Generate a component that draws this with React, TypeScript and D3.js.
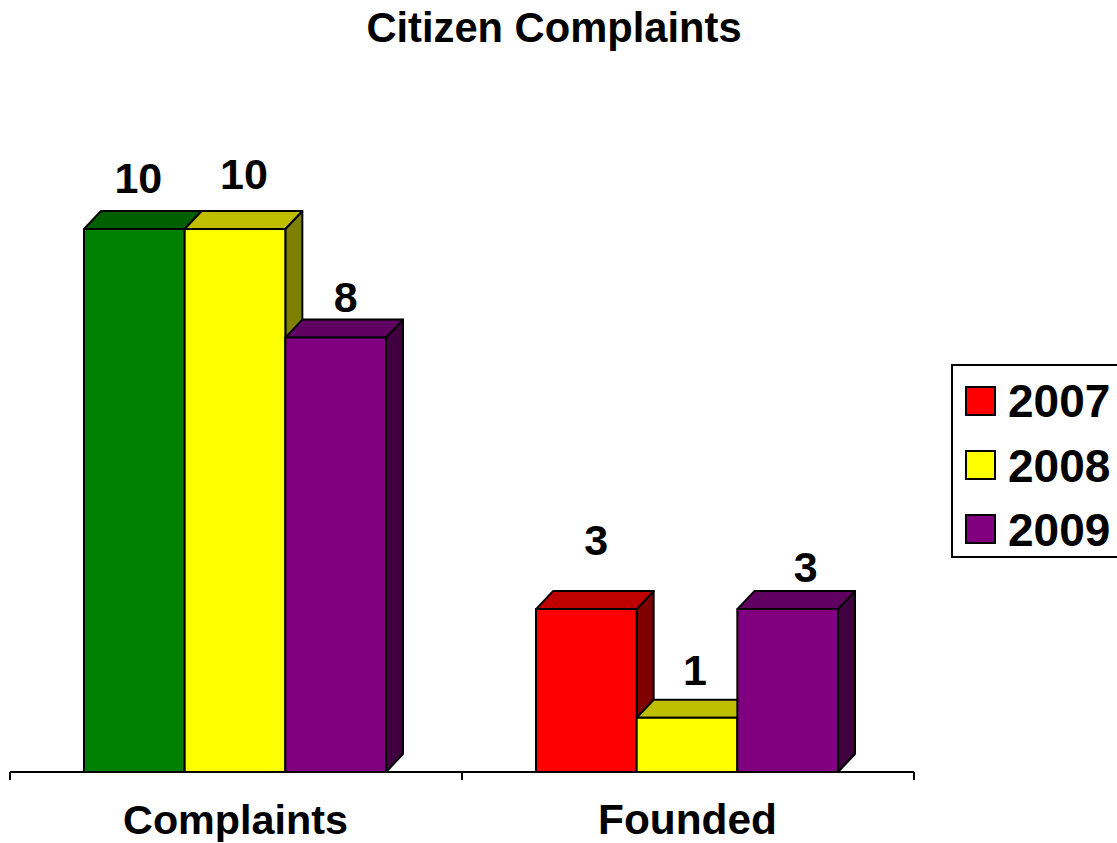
import React from "react";
import * as d3 from "d3";

const categories = ["Complaints", "Founded"];
const years = ["2007", "2008", "2009"];
const complaints = [10, 10, 8];
const founded = [3, 1, 3];
const seriesValues = [complaints, founded];
const title = "Citizen Complaints";

const red = "#ff0000";
const green = "#008000";
const yellow = "#ffff00";
const purple = "#800080";
const legendColors = [red, yellow, purple];
// first complaints bar is green in the picture, the legend still says red
const barColors = [
  [green, yellow, purple],
  [red, yellow, purple],
];

const font = "Liberation Sans, Arial, sans-serif";
const depthX = 17;
const depthY = 18;

// the data labels are not placed evenly in the original, nudges per bar
const labelNudge = [
  [[4, -36], [9, -40], [10, -26]],
  [[10, -54], [8, -33], [18, -27]],
];

const shade = (color: string, k: number) => {
  const c = d3.rgb(color);
  return d3.rgb(c.r * k, c.g * k, c.b * k).formatHex();
};

const App = () => {
  const x0 = d3.scaleBand().domain(categories).range([10, 914]);
  const x1 = d3.scaleBand().domain(years).range([0, 302]);
  const y = d3.scaleLinear().domain([0, 10]).range([772, 229]);

  const bars = categories.flatMap((c, ci) =>
    years.map((yr, si) => ({
      key: c + yr,
      cat: ci,
      series: si,
      value: seriesValues[ci][si],
      x: (x0(c) as number) + 74 + (x1(yr) as number),
      w: x1.bandwidth(),
      color: barColors[ci][si],
    }))
  );

  return (
    <svg
      width={1117}
      height={843}
      style={{ position: "absolute", left: 0, top: 0 }}
      fontFamily={font}
      fontWeight="bold"
    >
      <text x={554} y={42} textAnchor="middle" fontSize={41.7}>
        {title}
      </text>

      {bars.map((b) => {
        const top = y(b.value);
        const base = y(0);
        const right = b.x + b.w;
        const faceTop = d3.path();
        faceTop.moveTo(b.x, top);
        faceTop.lineTo(b.x + depthX, top - depthY);
        faceTop.lineTo(right + depthX, top - depthY);
        faceTop.lineTo(right, top);
        faceTop.closePath();
        const faceSide = d3.path();
        faceSide.moveTo(right, top);
        faceSide.lineTo(right + depthX, top - depthY);
        faceSide.lineTo(right + depthX, base - depthY);
        faceSide.lineTo(right, base);
        faceSide.closePath();
        return (
          <g key={b.key} stroke="#000" strokeWidth={2} strokeLinejoin="round">
            <path d={faceSide.toString()} fill={shade(b.color, 0.5)} />
            <path d={faceTop.toString()} fill={shade(b.color, 0.75)} />
            <rect x={b.x} y={top} width={b.w} height={base - top} fill={b.color} />
          </g>
        );
      })}

      {bars.map((b) => (
        <text
          key={"lab" + b.key}
          x={b.x + b.w / 2 + labelNudge[b.cat][b.series][0]}
          y={y(b.value) + labelNudge[b.cat][b.series][1]}
          textAnchor="middle"
          fontSize={43}
        >
          {b.value}
        </text>
      ))}

      <g stroke="#000" strokeWidth={2}>
        <line x1={10} x2={914} y1={772} y2={772} />
        {[10, 462, 914].map((t) => (
          <line key={t} x1={t} x2={t} y1={772} y2={780} />
        ))}
      </g>
      {categories.map((c, i) => (
        <text
          key={c}
          x={(x0(c) as number) + x0.bandwidth() / 2 - 0.5}
          y={834}
          textAnchor="middle"
          fontSize={i === 0 ? 41.3 : 42.4}
        >
          {c}
        </text>
      ))}

      <rect x={952} y={365} width={170} height={192} fill="#fff" stroke="#000" strokeWidth={2} />
      {years.map((yr, i) => (
        <g key={yr}>
          <rect
            x={966}
            y={387 + i * 64}
            width={29}
            height={28}
            fill={legendColors[i]}
            stroke="#000"
            strokeWidth={2}
          />
          <text x={1008} y={417 + i * 64.5} fontSize={46}>
            {yr}
          </text>
        </g>
      ))}
    </svg>
  );
};

export default App;
